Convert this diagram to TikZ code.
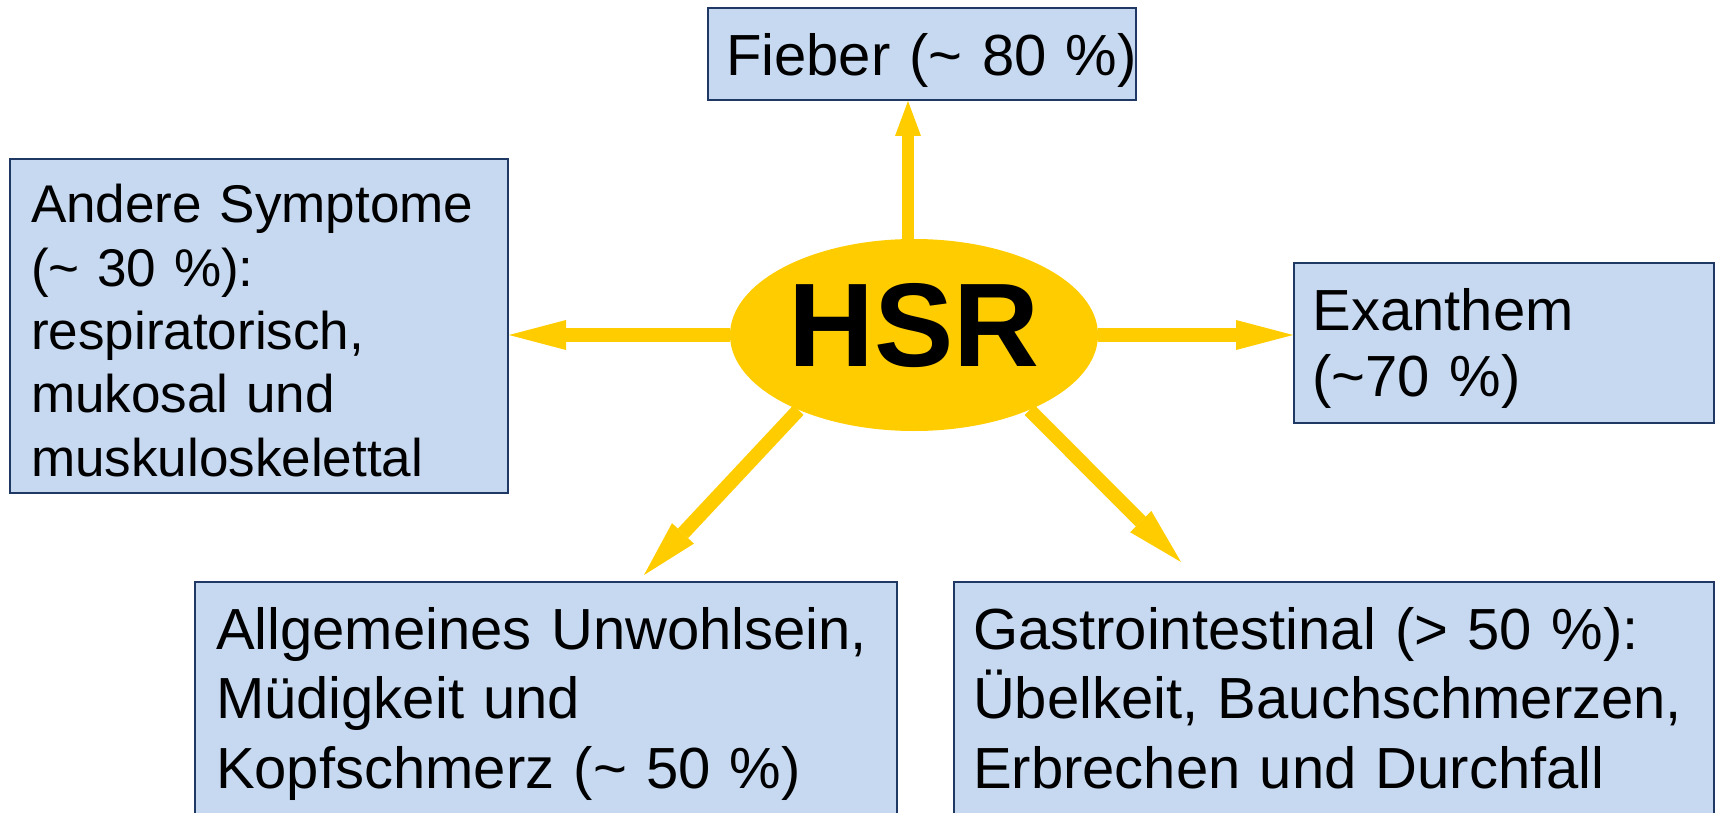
\documentclass[tikz,border=0pt]{standalone}
\usepackage{fontspec}
\setmainfont{Liberation Sans}
\usetikzlibrary{shapes.geometric, arrows.meta}
\definecolor{cyellow}{RGB}{255,204,0}
\definecolor{cblue}{RGB}{198,217,240}
\definecolor{cnavy}{RGB}{31,56,100}

\begin{document}
\begin{tikzpicture}[x=1cm, y=1cm,
		symptom/.style={anchor=north west, fill=cblue, draw=cnavy, line width=0.04cm, align=left, inner ysep=0pt},
		spoke/.style={cyellow, line width=0.28cm, -{Triangle[length=1.14cm, width=0.6cm, line width=0pt]}},
		spokeup/.style={cyellow, line width=0.24cm, -{Triangle[length=0.7cm, width=0.52cm, line width=0pt]}}]
		\def\xleft{0}
		\def\xright{34.3}
		\def\ydown{0}
		\def\yup{16.24}
		\draw[draw=none, use as bounding box] (\xleft, \ydown) rectangle (\xright, \yup);
		\clip (\xleft, \ydown) rectangle (\xright, \yup);

		\def\bigfont{\fontsize{33pt}{37.6pt}\selectfont}
		\def\lowfont{\fontsize{33pt}{39.8pt}\selectfont}
		\def\sidefont{\fontsize{30.2pt}{36pt}\selectfont}

		% Centre
		\node[ellipse, fill=cyellow, minimum width=7.36cm, minimum height=3.84cm, inner sep=0pt, text depth=0.42cm, font=\fontsize{67.7pt}{70pt}\selectfont\bfseries] (hsr) at (18.28, 9.54)
			{HSR};

		% Boxes
		\node[symptom, text width=7.84cm, inner xsep=0.36cm, text height=1.36cm, text depth=0.48cm, font=\bigfont] (fieber) at (14.14, 16.10)
			{Fieber~(\textasciitilde~80~\%)};

		\node[symptom, text width=9.12cm, inner xsep=0.42cm, text height=1.28cm, text depth=5.4cm, font=\sidefont] (andere) at (0.18, 13.08)
			{Andere Symptome\\(\textasciitilde~30~\%):\\respiratorisch,\\mukosal und\\muskuloskelettal};

		\node[symptom, text width=7.66cm, inner xsep=0.37cm, text height=1.34cm, text depth=1.86cm, font=\bigfont] (exanthem) at (25.86, 11.0)
			{Exanthem\\(\textasciitilde70~\%)};

		\node[symptom, text width=13.2cm, inner xsep=0.42cm, text height=1.34cm, text depth=4cm, font=\lowfont] (allgemein) at (3.88, 4.62)
			{Allgemeines Unwohlsein,\\Müdigkeit und\\Kopfschmerz (\textasciitilde~50~\%)};

		\node[symptom, text width=14.44cm, inner xsep=0.38cm, text height=1.34cm, text depth=4cm, font=\lowfont] (gastro) at (19.06, 4.62)
			{Gastrointestinal (> 50~\%):\\Übelkeit, Bauchschmerzen,\\Erbrechen und Durchfall};

		% Arrows
		\coordinate (upfoot) at ([xshift=-0.12cm]hsr.north);
		\coordinate (tipsw) at (12.88, 4.74);
		\coordinate (tipse) at (23.62, 5.0);
		\draw[spokeup] (upfoot) -- (upfoot |- fieber.south);
		\draw[spoke] (hsr.west) -- (hsr.west -| andere.east);
		\draw[spoke] (hsr.east) -- (hsr.east -| exanthem.west);
		\draw[spoke] (hsr.213) -- (tipsw);
		\draw[spoke] (hsr.327) -- (tipse);

	\end{tikzpicture}
\end{document}
